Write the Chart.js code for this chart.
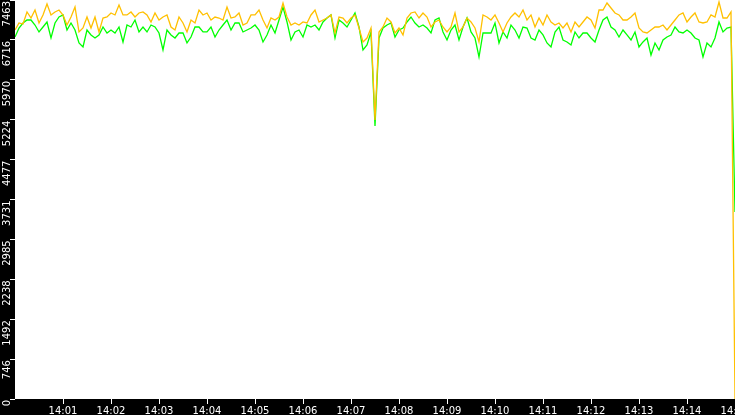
<!DOCTYPE html>
<html>
<head>
<meta charset="utf-8">
<script src="https://cdn.jsdelivr.net/npm/chart.js@4.4.1/dist/chart.umd.min.js"></script>
<style>
  html, body { margin: 0; padding: 0; background: #000; }
  #wrap { width: 735px; height: 415px; position: relative; }
</style>
</head>
<body>
<div id="wrap"><canvas id="chart"></canvas></div>
<script>
// samples every 5 s from 14:00:00 to 14:15:00
const stepSeconds = 5;
const yMax = 7463;
const yTickLabels = ['0', '746', '1492', '2238', '2985', '3731', '4477', '5224', '5970', '6716', '7463'];
const xTickLabels = ['14:01', '14:02', '14:03', '14:04', '14:05', '14:06', '14:07', '14:08',
                     '14:09', '14:10', '14:11', '14:12', '14:13', '14:14', '14:15'];

const yellowValues = [
  6902, 7033, 7014, 7239, 7126, 7276, 7033, 7183, 7388, 7183, 7239, 7276, 7183, 6995, 7145, 7332,
  6865, 6939, 7145, 6939, 7145, 6865, 7126, 7145, 7220, 7183, 7370, 7183, 7183, 7239, 7145, 7220,
  7239, 7183, 7052, 7220, 7089, 7145, 7183, 6958, 6902, 7145, 7033, 6865, 7089, 7033, 7276, 7183,
  7220, 7089, 7145, 7126, 7089, 7332, 7126, 7145, 7220, 6995, 7033, 7183, 7183, 7276, 7089, 6939,
  7126, 7089, 7145, 7407, 7145, 6995, 7033, 6995, 7052, 7033, 7183, 7276, 7052, 7089, 7126, 7183,
  6846, 7145, 7126, 7033, 7126, 7183, 6939, 6678, 6752, 6939, 5219, 6865, 6958, 7126, 7052, 6846,
  6939, 6809, 7126, 7220, 7239, 7126, 7220, 7145, 6958, 7052, 7089, 6958, 6865, 6958, 7220, 6865,
  6958, 7126, 7052, 6939, 6678, 7183, 7145, 7089, 7183, 7033, 6865, 7033, 7145, 7220, 7145, 7276,
  7089, 7183, 6958, 7126, 6995, 7183, 7052, 6995, 7033, 6939, 7033, 6865, 7052, 6958, 7052, 7145,
  7089, 6939, 7276, 7276, 7407, 7313, 7220, 7183, 7089, 7089, 7145, 7220, 6939, 6865, 6846, 6902,
  6958, 6958, 6995, 6902, 6995, 7089, 7183, 7220, 7052, 7145, 7220, 7052, 7033, 7052, 7183, 7145,
  7426, 7126, 7126, 7239, 0
];

const greenValues = [
  6771, 6939, 7033, 7089, 7089, 6995, 6865, 6958, 7052, 6752, 7033, 7145, 7183, 6902, 7033, 6902,
  6659, 6584, 6902, 6809, 6752, 6809, 6958, 6846, 6902, 6846, 6958, 6678, 6995, 6958, 7089, 6865,
  6958, 6865, 6995, 6958, 6846, 6528, 6902, 6809, 6752, 6846, 6846, 6659, 6771, 6958, 6958, 6865,
  6865, 6958, 6771, 6902, 6995, 7089, 6902, 7033, 7033, 6865, 6902, 6939, 6995, 6902, 6678, 6809,
  6995, 6846, 7089, 7332, 7052, 6715, 6865, 6902, 6771, 6995, 6958, 6995, 6902, 7052, 7126, 7183,
  6752, 7089, 7033, 6958, 7089, 7220, 6958, 6528, 6622, 6865, 5107, 6752, 6939, 6995, 7033, 6771,
  6902, 6939, 7052, 7145, 7033, 6958, 6995, 6939, 6846, 7089, 7126, 6865, 6715, 6902, 6995, 6715,
  6958, 7126, 6865, 6752, 6397, 6846, 6846, 6846, 7033, 6659, 6865, 6752, 6995, 6902, 6752, 6958,
  6939, 6752, 6715, 6902, 6809, 6659, 6584, 6865, 6958, 6715, 6678, 6622, 6865, 6752, 6846, 6846,
  6752, 6678, 6902, 7089, 7145, 6958, 6902, 6771, 6902, 6809, 6715, 6865, 6584, 6678, 6752, 6434,
  6659, 6528, 6715, 6771, 6809, 6958, 6865, 6846, 6902, 6846, 6752, 6715, 6397, 6659, 6584, 6752,
  7052, 6865, 6939, 6958, 3500
];

const sampleSeconds = yellowValues.map((v, i) => i * stepSeconds);
const xTickValues = xTickLabels.map((t, i) => (i + 1) * 60);

const toPoints = vals => vals.map((v, i) => ({ x: sampleSeconds[i], y: v }));

// black frame, white plot area, rotated y labels
const plotBackground = {
  id: 'plotBackground',
  beforeDraw(chart) {
    const { ctx, chartArea: a } = chart;
    ctx.save();
    ctx.fillStyle = '#000';
    ctx.fillRect(0, 0, chart.width, chart.height);
    ctx.fillStyle = '#fff';
    ctx.fillRect(a.left, a.top, a.right - a.left, a.bottom - a.top);
    ctx.restore();
  },
  afterDraw(chart) {
    const ctx = chart.ctx;
    const y = chart.scales.y;
    ctx.save();
    ctx.fillStyle = '#fff';
    ctx.font = '10px "DejaVu Sans"';
    ctx.textAlign = 'right';
    ctx.textBaseline = 'middle';
    y.ticks.forEach((t, i) => {
      const py = y.getPixelForValue(t.value);
      ctx.save();
      ctx.translate(7, Math.max(py, 0) + 1);
      ctx.rotate(-Math.PI / 2);
      ctx.fillText(yTickLabels[i], 0, 0);
      ctx.restore();
    });
    ctx.restore();
  }
};

new Chart(document.getElementById('chart'), {
  type: 'line',
  data: {
    datasets: [
      { label: 'a', data: toPoints(yellowValues), borderColor: '#ffc000', borderWidth: 1.3, pointRadius: 0, tension: 0 },
      { label: 'b', data: toPoints(greenValues), borderColor: '#00ff00', borderWidth: 1.3, pointRadius: 0, tension: 0 }
    ]
  },
  options: {
    responsive: true,
    maintainAspectRatio: false,
    animation: false,
    layout: { padding: 0 },
    plugins: { legend: { display: false }, tooltip: { enabled: false } },
    scales: {
      x: {
        type: 'linear',
        min: 0,
        max: 900,
        afterBuildTicks: s => { s.ticks = xTickValues.map(v => ({ value: v })); },
        afterFit: s => { s.height = 16; s.paddingLeft = 0; s.paddingRight = 0; },
        border: { display: false },
        grid: { drawOnChartArea: false, drawTicks: true, tickLength: 5, color: '#fff' },
        ticks: {
          color: '#fff',
          font: { family: 'DejaVu Sans', size: 10 },
          padding: 1,
          maxRotation: 0,
          autoSkip: false,
          callback: (v, i) => xTickLabels[i]
        }
      },
      y: {
        min: 0,
        max: yMax,
        afterBuildTicks: s => { s.ticks = yTickLabels.map((t, i) => ({ value: i * yMax / 10 })); },
        afterFit: s => { s.width = 15; s.paddingTop = 0; s.paddingBottom = 0; },
        border: { display: false },
        grid: { drawOnChartArea: false, drawTicks: true, tickLength: 5, color: '#fff' },
        ticks: { display: false }
      }
    }
  },
  plugins: [plotBackground]
});
</script>
</body>
</html>
